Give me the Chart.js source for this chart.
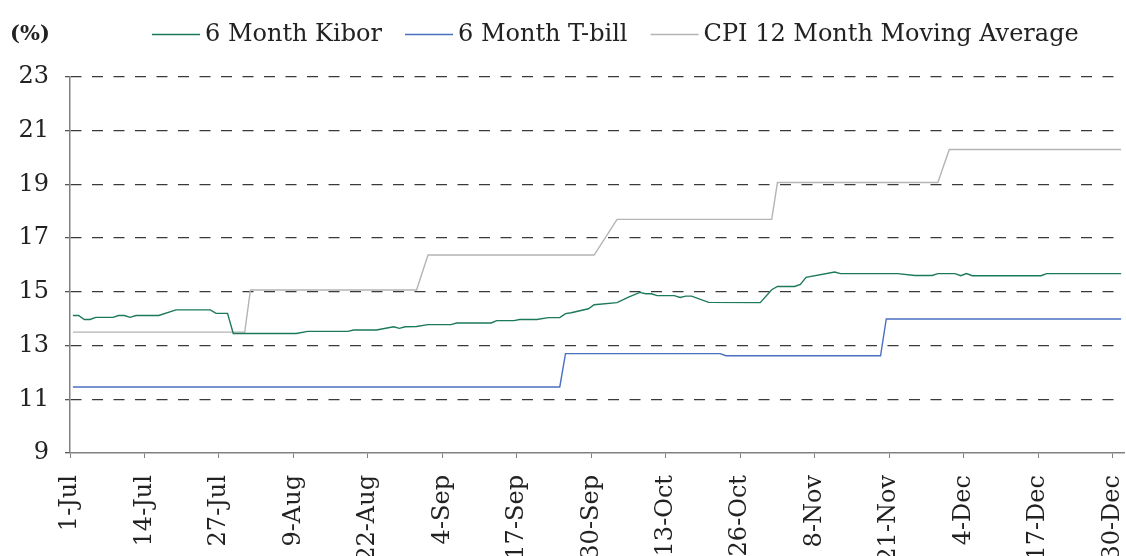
<!DOCTYPE html>
<html lang="en">
<head>
<meta charset="UTF-8" />
<title>6 Month Kibor, T-bill and CPI</title>
<script src="https://cdn.jsdelivr.net/npm/chart.js@4"></script>
<style>
  html, body { margin: 0; padding: 0; background: #fff; }
  #wrap { width: 1126px; height: 556px; position: relative; }
</style>
</head>
<body>
<div id="wrap"><canvas id="rates"></canvas></div>
<script>
const months = ['Jul', 'Aug', 'Sep', 'Oct', 'Nov', 'Dec'];
const monthDays = [31, 31, 30, 31, 30, 31];
const tickLabels = ['1-Jul', '14-Jul', '27-Jul', '9-Aug', '22-Aug', '4-Sep', '17-Sep',
  '30-Sep', '13-Oct', '26-Oct', '8-Nov', '21-Nov', '4-Dec', '17-Dec', '30-Dec'];

const kiborDates = ['1-Jul', '2-Jul', '3-Jul', '4-Jul', '5-Jul', '8-Jul', '9-Jul', '10-Jul', '11-Jul',
  '12-Jul', '16-Jul', '19-Jul', '25-Jul', '26-Jul', '28-Jul', '29-Jul', '9-Aug', '11-Aug', '18-Aug',
  '19-Aug', '23-Aug', '26-Aug', '27-Aug', '28-Aug', '30-Aug', '1-Sep', '5-Sep', '6-Sep', '12-Sep',
  '13-Sep', '16-Sep', '17-Sep', '20-Sep', '22-Sep', '24-Sep', '25-Sep', '26-Sep', '29-Sep', '30-Sep',
  '4-Oct', '6-Oct', '8-Oct', '9-Oct', '10-Oct', '11-Oct', '14-Oct', '15-Oct', '16-Oct', '17-Oct',
  '20-Oct', '29-Oct', '31-Oct', '1-Nov', '4-Nov', '5-Nov', '6-Nov', '11-Nov', '12-Nov', '22-Nov',
  '25-Nov', '28-Nov', '29-Nov', '2-Dec', '3-Dec', '4-Dec', '5-Dec', '17-Dec', '18-Dec', '31-Dec'];
const kiborValues = [14.12, 14.12, 13.97, 13.97, 14.05, 14.05, 14.12, 14.12, 14.05,
  14.12, 14.12, 14.33, 14.33, 14.20, 14.20, 13.45, 13.45, 13.53, 13.53,
  13.58, 13.58, 13.70, 13.64, 13.70, 13.71, 13.78, 13.78, 13.84, 13.84,
  13.93, 13.93, 13.97, 13.97, 14.04, 14.04, 14.19, 14.22, 14.37, 14.52,
  14.60, 14.80, 14.98, 14.93, 14.93, 14.86, 14.86, 14.79, 14.84, 14.84,
  14.61, 14.60, 15.08, 15.20, 15.20, 15.28, 15.54, 15.74, 15.68, 15.68,
  15.61, 15.61, 15.68, 15.68, 15.60, 15.68, 15.60, 15.60, 15.68, 15.68];

const tbillDates = ['1-Jul', '24-Sep', '25-Sep', '22-Oct', '23-Oct', '19-Nov', '20-Nov', '31-Dec'];
const tbillValues = [11.46, 11.46, 12.70, 12.70, 12.62, 12.62, 13.99, 13.99];

const cpiDates = ['1-Jul', '31-Jul', '1-Aug', '30-Aug', '1-Sep', '30-Sep', '4-Oct', '31-Oct',
  '1-Nov', '29-Nov', '1-Dec', '31-Dec'];
const cpiValues = [13.5, 13.5, 15.07, 15.07, 16.37, 16.37, 17.7, 17.7, 19.07, 19.07, 20.3, 20.3];

// day number counted from 1-Jul
function dayIndex(label) {
  const [d, m] = label.split('-');
  let n = 0;
  for (let i = 0; i < months.indexOf(m); i++) n += monthDays[i];
  return n + Number(d) - 1;
}

// points sit in the middle of their day
function toPoints(dates, values) {
  return dates.map((d, i) => ({ x: dayIndex(d) + 0.5, y: values[i] }));
}

const FONT = '"DejaVu Serif", serif';

const headerPlugin = {
  id: 'header',
  afterDraw(chart) {
    const ctx = chart.ctx;
    ctx.save();
    ctx.fillStyle = '#222';
    ctx.textBaseline = 'alphabetic';
    ctx.font = 'bold 21px ' + FONT;
    ctx.fillText('(%)', 10, 40);
    ctx.font = '24px ' + FONT;
    let x = 152;
    chart.data.datasets.forEach(ds => {
      ctx.strokeStyle = ds.borderColor;
      ctx.lineWidth = 1.3;
      ctx.beginPath();
      ctx.moveTo(x, 34.5);
      ctx.lineTo(x + 48, 34.5);
      ctx.stroke();
      x += 53;
      ctx.fillText(ds.label, x, 40.5);
      x += ctx.measureText(ds.label).width + 23;
    });
    ctx.restore();
  }
};

new Chart(document.getElementById('rates'), {
  type: 'line',
  data: {
    datasets: [
      { label: '6 Month Kibor', data: toPoints(kiborDates, kiborValues), borderColor: '#1b7a58' },
      { label: '6 Month T-bill', data: toPoints(tbillDates, tbillValues), borderColor: '#4a6fc1' },
      { label: 'CPI 12 Month Moving Average', data: toPoints(cpiDates, cpiValues), borderColor: '#b4b4b4' }
    ]
  },
  options: {
    responsive: true,
    maintainAspectRatio: false,
    animation: false,
    layout: { padding: { top: 77, right: 2, left: 0, bottom: 0 } },
    elements: {
      line: { borderWidth: 1.4, tension: 0 },
      point: { radius: 0, hoverRadius: 0 }
    },
    plugins: { legend: { display: false }, tooltip: { enabled: false } },
    scales: {
      x: {
        type: 'linear',
        min: 0,
        max: 184,
        afterBuildTicks: scale => { scale.ticks = tickLabels.map(l => ({ value: dayIndex(l) })); },
        afterFit: scale => {
          scale.height = 103;
          scale.paddingLeft = 0;
          scale.paddingRight = 0;
        },
        ticks: {
          autoSkip: false,
          minRotation: 90,
          maxRotation: 90,
          padding: 17,
          color: '#222',
          font: { family: FONT, size: 24 },
          callback: value => tickLabels.find(l => dayIndex(l) === value) || ''
        },
        grid: { drawOnChartArea: false, drawTicks: true, tickLength: 5, tickColor: '#808080' },
        border: { color: '#808080', width: 1.5 }
      },
      y: {
        min: 9,
        max: 23,
        afterFit: scale => { scale.width = 70; },
        ticks: {
          stepSize: 2,
          padding: 16,
          color: '#222',
          font: { family: FONT, size: 24 }
        },
        grid: {
          color: ctx => ctx.tick && ctx.tick.value === 9 ? 'rgba(0,0,0,0)' : '#3a3a3a',
          tickColor: '#555',
          tickLength: 5,
          lineWidth: 1.3
        },
        border: { color: '#808080', width: 1.5, dash: [11, 10.5] }
      }
    }
  },
  plugins: [headerPlugin]
});
</script>
</body>
</html>
